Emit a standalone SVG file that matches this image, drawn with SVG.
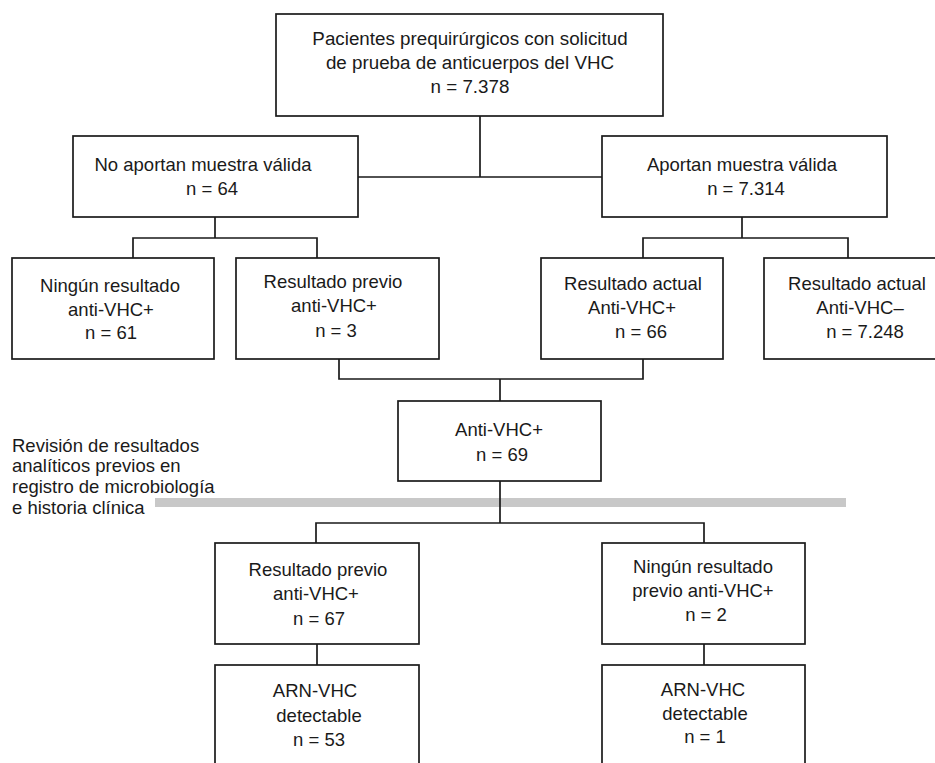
<svg xmlns="http://www.w3.org/2000/svg" width="935" height="763" viewBox="0 0 935 763">
<style>
.box{fill:#ffffff;stroke:#1a1a1a;stroke-width:1.7}
.ln{fill:none;stroke:#1a1a1a;stroke-width:1.7}
text{font-family:"Liberation Sans",Arial,Helvetica,sans-serif;font-size:18.5px;fill:#1a1a1a}
.c{text-anchor:middle}
.big{font-size:18.8px}
</style>
<rect width="935" height="763" fill="#ffffff"/>
<rect id="band" x="155" y="498" width="691" height="9" fill="#c8c8c8"/>
<g id="connectors">
<path class="ln" d="M480 116V177M358 177H602"/>
<path class="ln" d="M215 217V238M133 258V238H317V258"/>
<path class="ln" d="M742 217V238M643 258V238H848V258"/>
<path class="ln" d="M339 359V379H643V359M500 379V401"/>
<path class="ln" d="M500 481V523M316 543V523H704V543"/>
<path class="ln" d="M317 644V665M704 644V665"/>
</g>
<g id="n_total">
<rect class="box" x="276" y="14" width="387" height="102"/>
<text class="c big" x="470" y="45">Pacientes prequirúrgicos con solicitud</text>
<text class="c big" x="470" y="69">de prueba de anticuerpos del VHC</text>
<text class="c big" x="470" y="93">n = 7.378</text>
</g>
<g id="n_no_valida">
<rect class="box" x="73" y="136" width="285" height="81"/>
<text class="c" x="203" y="171">No aportan muestra válida</text>
<text class="c" x="212" y="195">n = 64</text>
</g>
<g id="n_valida">
<rect class="box" x="602" y="136" width="285" height="81"/>
<text class="c" x="742" y="171">Aportan muestra válida</text>
<text class="c" x="746" y="195">n = 7.314</text>
</g>
<g id="n_ningun">
<rect class="box" x="12" y="258" width="202" height="101"/>
<text class="c" x="110" y="292">Ningún resultado</text>
<text class="c" x="111" y="316">anti-VHC+</text>
<text class="c" x="111" y="339">n = 61</text>
</g>
<g id="n_previo">
<rect class="box" x="236" y="258" width="203" height="101"/>
<text class="c" x="333" y="288">Resultado previo</text>
<text class="c" x="334" y="312">anti-VHC+</text>
<text class="c" x="336" y="337">n = 3</text>
</g>
<g id="n_actual_pos">
<rect class="box" x="541" y="258" width="182" height="101"/>
<text class="c" x="633" y="290">Resultado actual</text>
<text class="c" x="632" y="314">Anti-VHC+</text>
<text class="c" x="641" y="338">n = 66</text>
</g>
<g id="n_actual_neg">
<rect class="box" x="764" y="258" width="180" height="101"/>
<text class="c" x="857" y="290">Resultado actual</text>
<text class="c" x="860" y="314">Anti-VHC–</text>
<text class="c" x="865" y="338">n = 7.248</text>
</g>
<g id="n_anti">
<rect class="box" x="398" y="401" width="203" height="80"/>
<text class="c" x="499" y="436">Anti-VHC+</text>
<text class="c" x="502" y="461">n = 69</text>
</g>
<g id="note">
<text x="12" y="451.5">Revisión de resultados</text>
<text x="12" y="472.3">analíticos previos en</text>
<text x="12" y="493">registro de microbiología</text>
<text x="12" y="513.7">e historia clínica</text>
</g>
<g id="n_previo2">
<rect class="box" x="215" y="543" width="204" height="101"/>
<text class="c" x="318" y="576">Resultado previo</text>
<text class="c" x="316" y="600">anti-VHC+</text>
<text class="c" x="319" y="625">n = 67</text>
</g>
<g id="n_ningun2">
<rect class="box" x="602" y="543" width="203" height="101"/>
<text class="c" x="703" y="573">Ningún resultado</text>
<text class="c" x="703" y="597">previo anti-VHC+</text>
<text class="c" x="706" y="621">n = 2</text>
</g>
<g id="n_arn1">
<rect class="box" x="215" y="665" width="204" height="110"/>
<text class="c" x="315" y="697">ARN-VHC</text>
<text class="c" x="319" y="722">detectable</text>
<text class="c" x="319" y="746">n = 53</text>
</g>
<g id="n_arn2">
<rect class="box" x="602" y="665" width="203" height="110"/>
<text class="c" x="703" y="696">ARN-VHC</text>
<text class="c" x="705" y="720">detectable</text>
<text class="c" x="705" y="743">n = 1</text>
</g>
</svg>
